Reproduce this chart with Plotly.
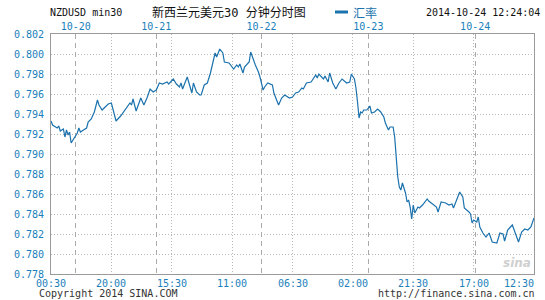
import plotly.graph_objects as go

# ---- data ----
# x = half-hour bar index from the first bar, y = NZD/USD rate
bar_index = [0, 1, 4, 5, 6, 8, 9, 10, 11, 12, 13, 15, 17, 18, 19, 21, 23, 24, 26, 28,
             30, 31, 33, 35, 37, 39, 41, 42, 45, 47, 49, 51, 52, 53, 55, 56, 58, 60, 62, 64,
             66, 68, 70, 72, 75, 76, 79, 81, 83, 84, 85, 88, 89, 91, 92, 94, 96, 97, 99, 101,
             103, 104, 106, 107, 108, 109, 111, 112, 115, 117, 118, 120, 121, 122, 124, 125, 128, 129, 131, 132,
             134, 135, 137, 138, 140, 143, 144, 147, 149, 151, 154, 156, 158, 160, 162, 163, 165, 168, 171, 172,
             173, 176, 177, 179, 180, 182, 184, 186, 188, 191, 193, 194, 196, 197, 198, 199, 200, 201, 202, 204,
             206, 207, 209, 211, 213, 215, 216, 218, 219, 221, 222, 223, 224, 225, 226, 227, 228, 229, 230, 231,
             232, 233, 234, 235, 237, 238, 240, 241, 243, 244, 247, 249, 250, 252, 255, 257, 259, 260, 262, 264,
             266, 267, 270, 271, 272, 273, 275, 276, 277, 279, 281, 283, 285, 287, 288, 290, 292, 293, 295, 298,
             300, 302, 304, 306, 308, 310, 312]
rate = [0.7933, 0.7929, 0.7926, 0.7928, 0.7923, 0.7925, 0.7917, 0.7924, 0.7919, 0.7922, 0.7911, 0.7916, 0.7921, 0.7926, 0.7922, 0.7924, 0.7926, 0.7932, 0.7935, 0.7942,
        0.7954, 0.7949, 0.7944, 0.7947, 0.7950, 0.7951, 0.7940, 0.7933, 0.7938, 0.7942, 0.7947, 0.7951, 0.7949, 0.7955, 0.7943, 0.7947, 0.7956, 0.7949, 0.7956, 0.7965,
        0.7962, 0.7964, 0.7971, 0.7970, 0.7972, 0.7970, 0.7975, 0.7970, 0.7967, 0.7971, 0.7965, 0.7977, 0.7972, 0.7961, 0.7971, 0.7962, 0.7959, 0.7959, 0.7969, 0.7971,
        0.7981, 0.7987, 0.8001, 0.7997, 0.8002, 0.8005, 0.8001, 0.7992, 0.7991, 0.7987, 0.7985, 0.7989, 0.7987, 0.7990, 0.7981, 0.7987, 0.7992, 0.8002, 0.7993, 0.7989,
        0.7982, 0.7977, 0.7964, 0.7967, 0.7971, 0.7969, 0.7961, 0.7949, 0.7956, 0.7959, 0.7956, 0.7957, 0.7961, 0.7962, 0.7966, 0.7965, 0.7971, 0.7972, 0.7979, 0.7976,
        0.7980, 0.7975, 0.7978, 0.7972, 0.7981, 0.7971, 0.7965, 0.7971, 0.7975, 0.7971, 0.7972, 0.7980, 0.7975, 0.7966, 0.7952, 0.7936, 0.7942, 0.7941, 0.7944, 0.7944,
        0.7948, 0.7941, 0.7942, 0.7945, 0.7942, 0.7937, 0.7931, 0.7924, 0.7927, 0.7927, 0.7917, 0.7894, 0.7877, 0.7867, 0.7864, 0.7871, 0.7866, 0.7861, 0.7852, 0.7854,
        0.7847, 0.7835, 0.7849, 0.7841, 0.7847, 0.7846, 0.7849, 0.7851, 0.7855, 0.7853, 0.7849, 0.7847, 0.7842, 0.7852, 0.7851, 0.7849, 0.7850, 0.7846, 0.7854, 0.7862,
        0.7857, 0.7846, 0.7842, 0.7840, 0.7831, 0.7834, 0.7832, 0.7837, 0.7827, 0.7821, 0.7817, 0.7821, 0.7812, 0.7811, 0.7811, 0.7821, 0.7820, 0.7813, 0.7824, 0.7829,
        0.7821, 0.7812, 0.7822, 0.7825, 0.7824, 0.7827, 0.7836]

time_tick_index = [0, 39, 78, 117, 156, 195, 234, 273, 312]
time_tick_labels = ["00:30", "20:00", "15:30", "11:00", "06:30", "02:00", "21:30", "17:00", "12:30"]
day_tick_index = [16, 68, 136, 205, 274]
day_tick_labels = ["10-20", "10-21", "10-22", "10-23", "10-24"]
y_ticks = [0.778, 0.780, 0.782, 0.784, 0.786, 0.788, 0.790, 0.792, 0.794, 0.796, 0.798, 0.800, 0.802]

title_left = "NZDUSD min30"
title_mid = "新西兰元美元30 分钟分时图"
series_name = "汇率"
stamp = "2014-10-24 12:24:04"
copyright_text = "Copyright 2014 SINA.COM"
url_text = "http://finance.sina.com.cn"

# ---- styles ----
BLUE = "#1b72ad"
LABEL_BLUE = "#1a7fbb"
MONO = "DejaVu Sans Mono, Noto Sans CJK SC, monospace"

fig = go.Figure()
fig.add_trace(go.Scatter(x=bar_index, y=rate, mode="lines", name=series_name,
                         line=dict(color=BLUE, width=1.2), showlegend=False))
# carrier trace so the top (date) axis is drawn
fig.add_trace(go.Scatter(x=bar_index, y=rate, mode="lines", xaxis="x2",
                         line=dict(color="rgba(0,0,0,0)", width=0),
                         hoverinfo="skip", showlegend=False))

W, H = 545, 300
ML, MR, MT, MB = 51, 11, 34, 26
PW, PH = W - ML - MR, H - MT - MB


def px(xp):
    return (xp - ML) / PW


def py(yp):
    return (H - MB - yp) / PH


fig.update_layout(
    width=W, height=H,
    margin=dict(l=ML, r=MR, t=MT, b=MB, pad=0),
    paper_bgcolor="white", plot_bgcolor="white",
    font=dict(family=MONO, size=10, color="#222"),
    xaxis=dict(range=[time_tick_index[0], time_tick_index[-1]], tickmode="array",
               tickvals=time_tick_index, showticklabels=False,
               showgrid=True, gridcolor="#b8b8b8", griddash="1px,2px", gridwidth=1,
               showline=True, linecolor="#9a9a9a", linewidth=1, mirror=True,
               zeroline=False, ticks=""),
    xaxis2=dict(overlaying="x", side="top", matches="x", tickmode="array",
                tickvals=day_tick_index, ticktext=day_tick_labels,
                tickfont=dict(family=MONO, size=10, color=LABEL_BLUE),
                showgrid=True, gridcolor="#aaaaaa", griddash="5px,4px", gridwidth=1,
                showline=False, zeroline=False, ticks="", ticklabelstandoff=1),
    yaxis=dict(range=[y_ticks[0], y_ticks[-1]], tickmode="array", tickvals=y_ticks,
               ticktext=[f"{v:.3f}" for v in y_ticks],
               tickfont=dict(family=MONO, size=10, color=LABEL_BLUE),
               showgrid=True, gridcolor="#b8b8b8", griddash="1px,2px", gridwidth=1,
               showline=True, linecolor="#9a9a9a", linewidth=1, mirror=True,
               zeroline=False, ticks="", ticklabelstandoff=4),
)

ann = []
ann.append(dict(text=title_left, x=px(48), y=py(12), xref="paper", yref="paper",
                xanchor="left", yanchor="middle", showarrow=False,
                font=dict(family=MONO, size=10, color="#111")))
ann.append(dict(text=title_mid, x=px(150), y=py(12), xref="paper", yref="paper",
                xanchor="left", yanchor="middle", showarrow=False,
                font=dict(family=MONO, size=12, color="#111")))
ann.append(dict(text=series_name, x=px(351), y=py(12), xref="paper", yref="paper",
                xanchor="left", yanchor="middle", showarrow=False,
                font=dict(family="Noto Sans CJK SC", size=12, color=BLUE)))
ann.append(dict(text=stamp, x=px(542), y=py(12), xref="paper", yref="paper",
                xanchor="right", yanchor="middle", showarrow=False,
                font=dict(family=MONO, size=10, color="#111")))
for i, (tv, tl) in enumerate(zip(time_tick_index, time_tick_labels)):
    anchor = "right" if i == len(time_tick_index) - 1 else "center"
    ann.append(dict(text=tl, x=tv, y=py(283), xref="x", yref="paper",
                    xanchor=anchor, yanchor="middle", showarrow=False,
                    xshift=2 if anchor == "right" else 0,
                    font=dict(family=MONO, size=10, color=LABEL_BLUE)))
ann.append(dict(text=copyright_text, x=px(37), y=py(293.5), xref="paper", yref="paper",
                xanchor="left", yanchor="middle", showarrow=False,
                font=dict(family=MONO, size=10, color="#333")))
ann.append(dict(text=url_text, x=px(537), y=py(293.5), xref="paper", yref="paper",
                xanchor="right", yanchor="middle", showarrow=False,
                font=dict(family=MONO, size=10, color="#333")))
ann.append(dict(text="<i><b>sina</b></i>", x=px(533), y=py(263), xref="paper", yref="paper",
                xanchor="right", yanchor="middle", showarrow=False,
                font=dict(family="DejaVu Sans", size=12, color="#cfcfcf")))
fig.update_layout(annotations=ann)

# legend swatch
fig.add_shape(type="line", xref="paper", yref="paper", x0=px(335), x1=px(348),
              y0=py(12), y1=py(12), line=dict(color=BLUE, width=3))

fig.write_html("out.html")
